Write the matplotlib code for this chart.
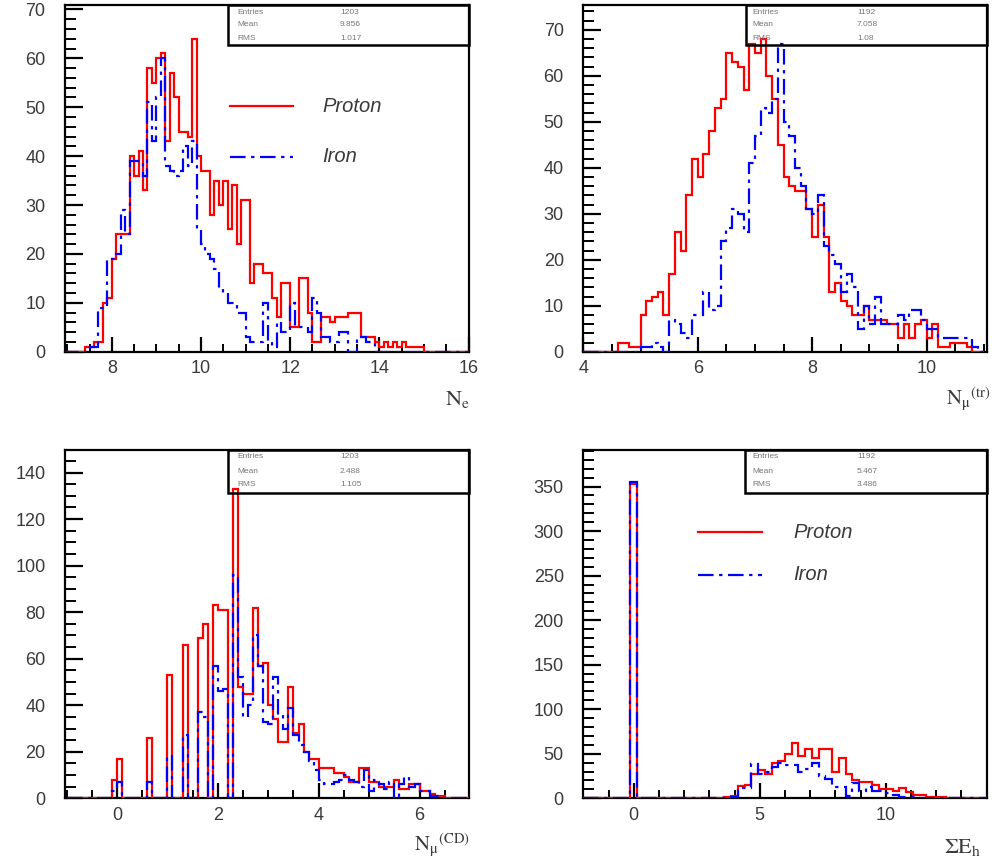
import numpy as np
import matplotlib.pyplot as plt
from matplotlib.lines import Line2D
from matplotlib.patches import Rectangle
from matplotlib.ticker import MultipleLocator

plt.rcParams['font.family'] = ['Liberation Sans', 'DejaVu Sans']
plt.rcParams['mathtext.fontset'] = 'stix'

# ---------------------------------------------
# histogram contents (bin width, first bin edge, counts)
# ---------------------------------------------
# N_e, 0.1 bins starting at 7.4
ne_first, ne_width = 7.4, 0.1
ne_proton = [1, 1, 2, 2, 10, 11, 19, 24, 24, 24,
             40, 36, 41, 33, 58, 55, 60, 61, 43, 57,
             52, 45, 45, 44, 64, 40, 37, 37, 28, 35,
             30, 35, 25, 34, 22, 31, 31, 14, 18, 18,
             16, 16, 11, 7, 14, 14, 5, 5, 15, 15,
             8, 2, 2, 7, 7, 6, 7, 7, 7, 8,
             8, 8, 3, 3, 3, 2, 1, 2, 1, 2,
             1, 2, 1, 1, 1, 1, 0]
ne_iron = [0, 1, 1, 9, 9, 19, 19, 20, 29, 24,
           39, 39, 39, 36, 51, 43, 52, 60, 38, 37,
           36, 37, 42, 38, 43, 25, 22, 20, 19, 17,
           13, 12, 10, 10, 8, 8, 3, 2, 2, 2,
           10, 2, 1, 6, 4, 4, 10, 5, 5, 5,
           4, 11, 8, 3, 3, 2, 2, 4, 4, 0,
           0, 3, 3, 2, 2]

# N_mu (tr), 0.1 bins
ntr_first_p, ntr_first_fe, ntr_width = 4.6, 4.9, 0.1
ntr_proton = [2, 2, 1, 1,
              8, 11, 12, 13, 8, 17, 26, 22, 34, 42,
              38, 43, 48, 53, 55, 65, 63, 62, 57, 67,
              65, 68, 60, 55, 45, 38, 36, 35, 35, 31,
              25, 32, 25, 13, 15, 11, 10, 8, 8, 10,
              7, 7, 7, 6, 6, 3, 6, 3, 6, 7,
              3, 6, 1, 1, 2, 2, 2, 1]
ntr_iron = [0, 1, 1, 2, 1, 0, 7, 6, 4, 3,
            8, 8, 13, 9, 10, 24, 27, 31, 30, 26,
            41, 47, 53, 52, 55, 67, 50, 47, 40, 36,
            31, 30, 34, 23, 21, 19, 13, 17, 14, 5,
            10, 6, 12, 6, 6, 6, 8, 7, 9, 9,
            7, 5, 5, 3, 3, 3, 3, 3, 3, 1]

# N_mu (CD), 0.1 bins starting at -0.1
ncd_first, ncd_width = -0.1, 0.1
ncd_proton = [8, 17, 0, 0, 0, 0, 0, 26, 0, 0,
              0, 53, 0, 0, 66, 0, 0, 69, 75, 0,
              83, 81, 81, 0, 133, 48, 45, 45, 82, 57,
              58, 40, 34, 24, 24, 48, 28, 32, 20, 17,
              17, 13, 13, 13, 11, 11, 9, 7, 7, 13,
              13, 7, 7, 5, 5, 5, 8, 4, 4, 6,
              6, 3, 3, 2, 1, 1]
ncd_iron = [3, 7, 0, 0, 0, 0, 0, 7, 0, 0,
            0, 18, 0, 0, 27, 0, 0, 37, 35, 0,
            57, 46, 47, 0, 96, 52, 35, 40, 70, 57,
            33, 32, 52, 36, 30, 39, 27, 23, 20, 16,
            12, 8, 6, 6, 7, 8, 10, 8, 7, 5,
            12, 3, 8, 6, 4, 7, 0, 6, 9, 5,
            6, 3, 3, 1, 1]

# Sum E_h, 60 bins over [-2, 14], listed from the bin holding 0
eh_width = 16 / 60
eh_first = -2 + 7 * eh_width
eh_proton = [353] + [0] * 13 + [1, 3, 14, 15, 27, 32, 27, 40, 42, 50,
                                62, 48, 55, 45, 55, 55, 30, 45, 27, 20,
                                18, 18, 15, 10, 10, 8, 12, 7, 4, 4,
                                2, 2, 1]
eh_iron = [355] + [0] * 13 + [0, 2, 12, 12, 38, 27, 30, 35, 40, 37,
                              37, 30, 33, 40, 25, 22, 13, 13, 3, 17,
                              8, 13, 8, 8, 6, 4, 2, 2, 1]

stat_names = ['Entries', 'Mean', 'RMS']
stats_ne = ['1203', '9.856', '1.017']
stats_ntr = ['1192', '7.058', '1.08']
stats_ncd = ['1203', '2.488', '1.105']
stats_eh = ['1192', '5.467', '3.486']

# ---------------------------------------------
# figure layout (pixel boxes)
# ---------------------------------------------
W, H = 997, 865
fig = plt.figure(figsize=(W / 100, H / 100), dpi=100)

RED = '#ff0000'
BLUE = '#0000ff'
DASHDOT = (0, (7, 2.5, 1.5, 2.5))
GREY = '#3a3a3a'


def px_axes(left, top, right, bottom):
    return fig.add_axes([left / W, 1 - bottom / H, (right - left) / W, (bottom - top) / H])


def padded(values, first, width, lo, hi):
    # add empty bins so the outline runs along zero over the whole axis
    n_lo = int(round((first - lo) / width))
    n_hi = int(round((hi - first) / width)) - len(values)
    full = np.concatenate([np.zeros(max(n_lo, 0)), values, np.zeros(max(n_hi, 0))])
    start = first - n_lo * width
    edges = start + width * np.arange(len(full) + 1)
    return full, edges


def style_axes(ax, xlim, ylim, xmaj, xmin, ymaj, ymin):
    ax.set_xlim(*xlim)
    ax.set_ylim(*ylim)
    ax.xaxis.set_major_locator(MultipleLocator(xmaj))
    ax.xaxis.set_minor_locator(MultipleLocator(xmin))
    ax.yaxis.set_major_locator(MultipleLocator(ymaj))
    ax.yaxis.set_minor_locator(MultipleLocator(ymin))
    ax.tick_params(axis='y', which='major', direction='in', length=13, width=1.6,
                   pad=14, labelsize=13, labelcolor=GREY)
    ax.tick_params(axis='y', which='minor', direction='in', length=8, width=1.4)
    ax.tick_params(axis='x', which='major', direction='in', length=11, width=1.6,
                   pad=6, labelsize=13, labelcolor=GREY)
    ax.tick_params(axis='x', which='minor', direction='in', length=6, width=1.4)
    for sp in ax.spines.values():
        sp.set_linewidth(1.6)
        sp.set_color('black')


def draw_hist(ax, proton, p_first, iron, fe_first, width, xlim):
    vals, edges = padded(proton, p_first, width, xlim[0], xlim[1])
    ax.stairs(vals, edges, color=RED, linewidth=1.6, zorder=3)
    vals, edges = padded(iron, fe_first, width, xlim[0], xlim[1])
    ax.stairs(vals, edges, color=BLUE, linewidth=1.6, linestyle=DASHDOT, zorder=3.1)


def stat_box(left, top, right, bottom, rows, name_x, value_x, values):
    fig.add_artist(Rectangle((left / W, 1 - bottom / H), (right - left) / W, (bottom - top) / H,
                             transform=fig.transFigure, fill=False, edgecolor='black',
                             linewidth=1.8, zorder=5))
    for name, val, y in zip(stat_names, values, rows):
        fig.text(name_x / W, 1 - y / H, name, fontsize=6, color='#777777', va='center')
        fig.text(value_x / W, 1 - y / H, val, fontsize=6, color='#777777', va='center')


def legend(x0, x1, tx, y_p, y_fe):
    fig.add_artist(Line2D([x0 / W, x1 / W], [1 - y_p / H] * 2, transform=fig.transFigure,
                          color=RED, linewidth=1.6))
    fig.add_artist(Line2D([x0 / W, x1 / W], [1 - y_fe / H] * 2, transform=fig.transFigure,
                          color=BLUE, linewidth=1.6, linestyle=DASHDOT))
    fig.text(tx / W, 1 - y_p / H, 'Proton', fontsize=14.5, style='italic', color=GREY, va='center')
    fig.text(tx / W, 1 - y_fe / H, 'Iron', fontsize=14.5, style='italic', color=GREY, va='center')


# ---------------------------------------------
# N_e
# ---------------------------------------------
ax1 = px_axes(65, 5, 468.5, 351.7)
xl = (6.95, 16.0)
draw_hist(ax1, ne_proton, ne_first, ne_iron, ne_first, ne_width, xl)
style_axes(ax1, xl, (0, 70.9), 2, 0.5, 10, 2)
stat_box(228, 5, 468.5, 45, [12, 24, 38], 237, 340, stats_ne)
legend(230, 293, 322, 106, 157)
fig.text(445 / W, 1 - 400 / H, r'$\mathrm{N_e}$', fontsize=16, color=GREY, va='center')

# ---------------------------------------------
# N_mu (tr)
# ---------------------------------------------
ax2 = px_axes(583.3, 5, 986.7, 351.7)
xl = (4.0, 11.05)
draw_hist(ax2, ntr_proton, ntr_first_p, ntr_iron, ntr_first_fe, ntr_width, xl)
style_axes(ax2, xl, (0, 75.4), 2, 0.5, 10, 2)
stat_box(745.7, 5, 986.7, 45, [12, 24, 38], 752, 857, stats_ntr)
fig.text(946 / W, 1 - 399 / H, r'$\mathrm{N_{\mu}}^{\mathrm{(tr)}}$', fontsize=15, color=GREY,
         va='center')

# ---------------------------------------------
# N_mu (CD)
# ---------------------------------------------
ax3 = px_axes(65, 450, 468.5, 798.3)
xl = (-1.03, 6.97)
draw_hist(ax3, ncd_proton, ncd_first, ncd_iron, ncd_first, ncd_width, xl)
style_axes(ax3, xl, (0, 149.7), 2, 0.5, 20, 5)
stat_box(228, 450, 468.5, 493.3, [457, 472, 485], 237, 340, stats_ncd)
fig.text(414 / W, 1 - 845 / H, r'$\mathrm{N_{\mu}}^{\mathrm{(CD)}}$', fontsize=15, color=GREY,
         va='center')

# ---------------------------------------------
# Sum E_h
# ---------------------------------------------
ax4 = px_axes(583.3, 450, 986.7, 798.3)
xl = (-2.0, 14.0)
draw_hist(ax4, eh_proton, eh_first, eh_iron, eh_first, eh_width, xl)
style_axes(ax4, xl, (0, 391), 5, 1, 50, 10)
stat_box(745, 450, 986.7, 493.3, [457, 472, 485], 752, 857, stats_eh)
legend(698, 762, 793, 532, 575)
fig.text(944 / W, 1 - 847 / H, r'$\Sigma\mathrm{E_h}$', fontsize=16, color=GREY, va='center')

fig.savefig('out.png', dpi=100)
